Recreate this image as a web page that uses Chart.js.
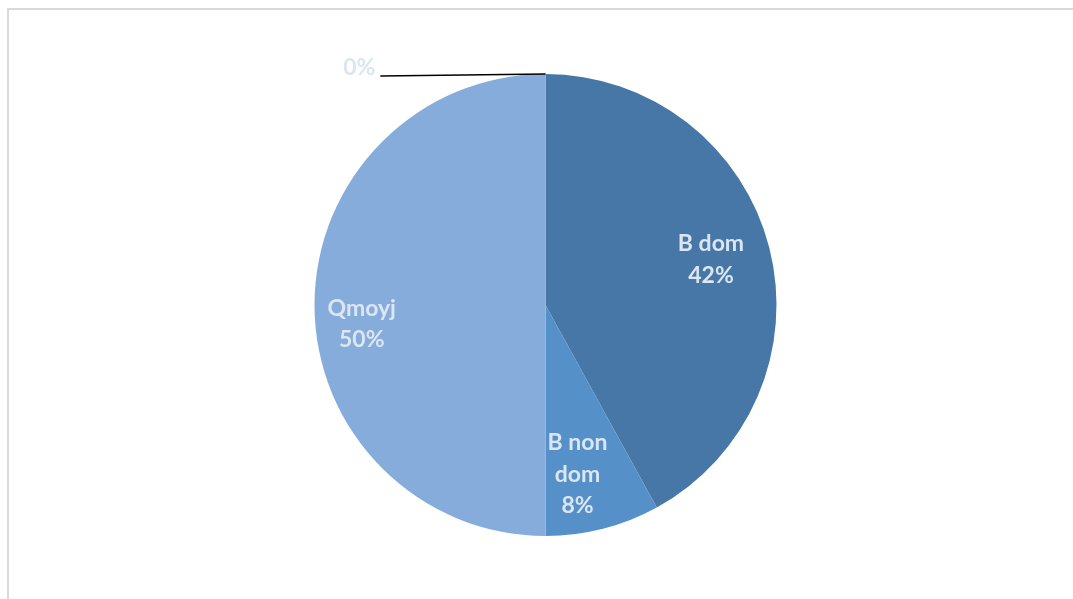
<!DOCTYPE html>
<html>
<head>
<meta charset="utf-8">
<script src="https://cdn.jsdelivr.net/npm/chart.js@4.4.1/dist/chart.umd.min.js"></script>
<style>
  html, body { margin: 0; padding: 0; background: #ffffff; }
  #wrap { position: relative; width: 1073px; height: 599px; overflow: hidden; }
  #frame { position: absolute; left: 7px; top: 8px; width: 1100px; height: 640px;
           border-left: 2px solid #d9d9d9; border-top: 2px solid #d9d9d9; box-sizing: border-box; }
  canvas { position: absolute; left: 0; top: 0; }
</style>
</head>
<body>
<div id="wrap">
  <div id="frame"></div>
  <canvas id="pie" width="1073" height="599"></canvas>
</div>
<script>
// Répartition des catégories (en %)
const categories = ['B dom', 'B non dom', 'Qmoyj', 'Autres'];
const values = [42, 8, 50, 0];
const sliceColors = ['#4677a7', '#5590c8', '#85acda', '#c5d6ec'];
const labelColor = '#dce6f2';
const labelFont = 'bold 23px Lato, "Open Sans", "Liberation Sans", sans-serif';
// placement of each inside label: fraction of the radius and angular nudge (degrees)
const labelRadius = [0.743, 0.747, 0.80];
const labelNudge = [-1, 3.7, -6];

// Étiquettes des secteurs : nom + pourcentage à l'intérieur,
// ligne de rappel pour les secteurs vides
const sliceLabels = {
  id: 'sliceLabels',
  afterDatasetsDraw(chart) {
    const ctx = chart.ctx;
    const meta = chart.getDatasetMeta(0);
    const total = values.reduce((a, b) => a + b, 0);
    ctx.save();
    ctx.font = labelFont;
    ctx.fillStyle = labelColor;
    ctx.textBaseline = 'middle';
    meta.data.forEach((arc, i) => {
      const pct = Math.round(values[i] / total * 100) + '%';
      const { x, y, startAngle, endAngle, outerRadius } = arc.getProps(['x', 'y', 'startAngle', 'endAngle', 'outerRadius'], true);
      if (values[i] === 0) {
        const px = x + Math.cos(startAngle) * outerRadius;
        const py = y + Math.sin(startAngle) * outerRadius;
        const ex = x - outerRadius * 0.715;
        ctx.strokeStyle = '#000000';
        ctx.lineWidth = 1.3;
        ctx.beginPath();
        ctx.moveTo(px, py);
        ctx.lineTo(ex, py + 2);
        ctx.stroke();
        ctx.textAlign = 'right';
        ctx.fillText(pct, ex - 5, py - 6);
        return;
      }
      const mid = (startAngle + endAngle) / 2 + labelNudge[i] * Math.PI / 180;
      const cx = x + Math.cos(mid) * outerRadius * labelRadius[i];
      const cy = y + Math.sin(mid) * outerRadius * labelRadius[i];
      let lines;
      if (categories[i] === 'B non dom') lines = ['B non', 'dom', pct];
      else lines = [categories[i], pct];
      const lh = 31.5;
      ctx.textAlign = 'center';
      lines.forEach((t, k) => {
        ctx.fillText(t, cx, cy + (k - (lines.length - 1) / 2) * lh);
      });
    });
    ctx.restore();
  }
};

new Chart(document.getElementById('pie'), {
  type: 'pie',
  data: {
    labels: categories,
    datasets: [{
      data: values,
      backgroundColor: sliceColors,
      borderWidth: 0
    }]
  },
  options: {
    responsive: false,
    animation: false,
    layout: { padding: { left: 18, right: 0, top: 74, bottom: 63 } },
    plugins: {
      legend: { display: false },
      tooltip: { enabled: false }
    }
  },
  plugins: [sliceLabels]
});
</script>
</body>
</html>
